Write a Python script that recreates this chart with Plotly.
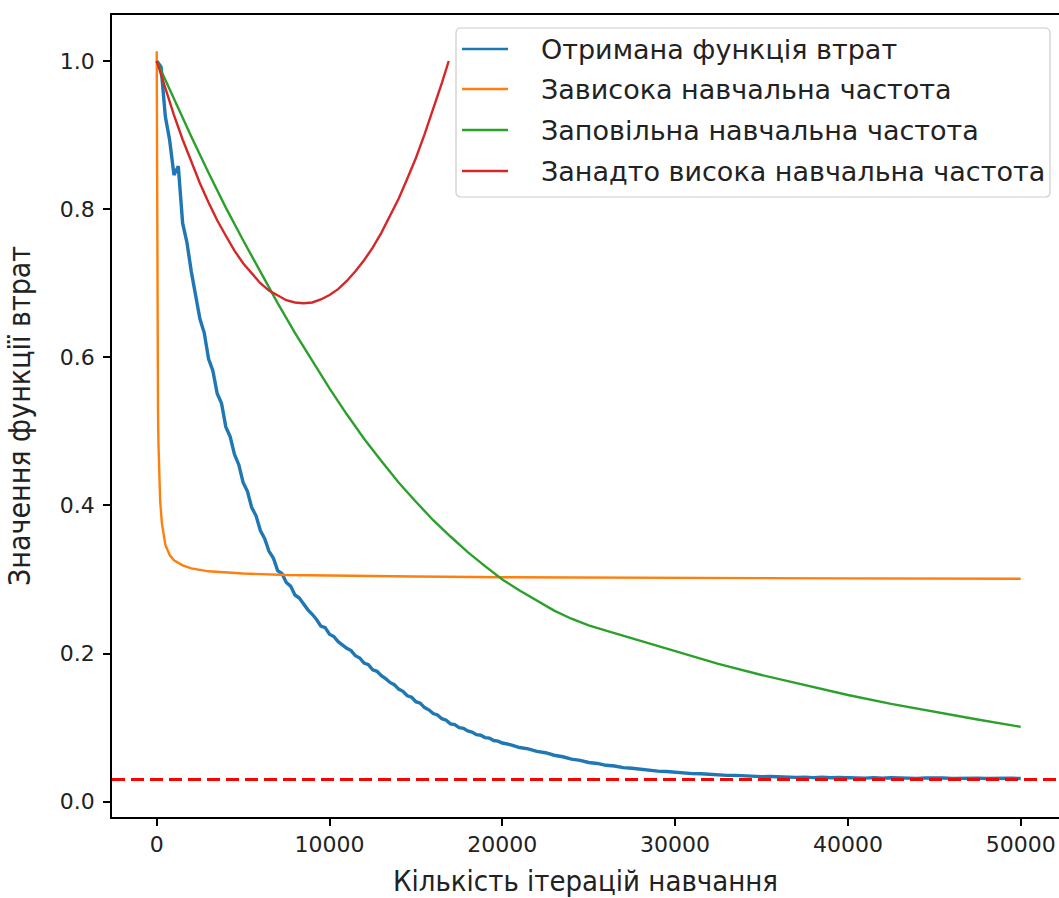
import plotly.graph_objects as go

# --- Loss curves -----------------------------------------------------------
# Observed loss (noisy): iterations and values
obs_iter = (
    [i * 250 for i in range(0, 81)]            # 0 .. 20000, step 250
    + [20000 + i * 500 for i in range(1, 61)]  # 20500 .. 50000, step 500
)
obs_loss = [
    1.000, 0.992, 0.925, 0.893, 0.846, 0.858, 0.781, 0.755, 0.716, 0.685,
    0.652, 0.633, 0.598, 0.582, 0.551, 0.538, 0.506, 0.493, 0.469, 0.455,
    0.431, 0.419, 0.397, 0.386, 0.366, 0.355, 0.338, 0.329, 0.312, 0.308,
    0.296, 0.291, 0.279, 0.275, 0.266, 0.259, 0.253, 0.246, 0.237, 0.235,
    0.226, 0.223, 0.216, 0.211, 0.207, 0.204, 0.197, 0.194, 0.187, 0.185,
    0.178, 0.176, 0.170, 0.166, 0.161, 0.158, 0.152, 0.149, 0.143, 0.141,
    0.135, 0.133, 0.127, 0.124, 0.119, 0.117, 0.112, 0.110, 0.105, 0.104,
    0.1000, 0.0990, 0.0955, 0.0940, 0.0905, 0.0897, 0.0865, 0.0858, 0.0826, 0.0818,
    0.0792,
    0.0768, 0.0731, 0.0712, 0.0679, 0.0661, 0.0627, 0.0606, 0.0575, 0.0558, 0.0529,
    0.0516, 0.0491, 0.0481, 0.0460, 0.0451, 0.0435, 0.0428, 0.0412, 0.0407, 0.0394,
    0.0390, 0.0379, 0.0376, 0.0366, 0.0364, 0.0355, 0.0355, 0.0346, 0.0347, 0.0338,
    0.0340, 0.0333, 0.0336, 0.0328, 0.0332, 0.0325, 0.0330, 0.0322, 0.0327, 0.0321,
    0.0326, 0.0318, 0.0324, 0.0317, 0.0322, 0.0316, 0.0321, 0.0315, 0.0320, 0.0314,
    0.0319, 0.0314, 0.0318, 0.0313, 0.0318, 0.0313, 0.0317, 0.0312, 0.0316, 0.0313,
]

# Learning rate too high: fast drop, then plateau
high_iter = [0, 10, 25, 50, 75, 100, 150, 200, 300, 400, 500, 750, 1000, 1500,
             2000, 3000, 5000, 7500, 10000, 15000, 20000, 30000, 40000, 50000]
high_loss = [1.013, 0.855, 0.716, 0.593, 0.527, 0.485, 0.435, 0.406, 0.376, 0.358,
             0.347, 0.333, 0.326, 0.319, 0.315, 0.311, 0.308, 0.306, 0.305, 0.304,
             0.303, 0.302, 0.3015, 0.301]

# Learning rate too low: slow decay
slow_iter = ([i * 1000 for i in range(0, 25)] + [24500]
             + [i * 1000 for i in range(25, 31)]
             + [32500, 35000, 37500, 40000, 42500, 45000, 47500, 50000])
slow_loss = [1.000, 0.948, 0.898, 0.849, 0.802, 0.758, 0.715, 0.673, 0.633, 0.595,
             0.558, 0.523, 0.490, 0.460, 0.431, 0.405, 0.380, 0.358, 0.337, 0.318,
             0.300, 0.285, 0.271, 0.258, 0.247, 0.242,
             0.238, 0.231, 0.224, 0.217, 0.210, 0.203,
             0.186, 0.171, 0.157, 0.144, 0.132, 0.121, 0.111, 0.101]

# Learning rate far too high: divergence after a minimum
div_iter = [i * 500 for i in range(0, 34)] + [16900]
div_loss = [1.000, 0.962, 0.927, 0.894, 0.864, 0.835, 0.809, 0.785, 0.764, 0.744,
            0.727, 0.713, 0.700, 0.690, 0.683, 0.677, 0.674, 0.673, 0.674, 0.678,
            0.684, 0.692, 0.703, 0.716, 0.731, 0.748, 0.768, 0.790, 0.814, 0.841,
            0.869, 0.901, 0.934, 0.970, 1.000]

target_loss = 0.03

names = [
    "Отримана функція втрат",
    "Зависока навчальна частота",
    "Заповільна навчальна частота",
    "Занадто висока навчальна частота",
]
colors = ["#1f77b4", "#ff7f0e", "#2ca02c", "#d62728"]

x_ticks = [0, 10000, 20000, 30000, 40000, 50000]
y_ticks = [0.0, 0.2, 0.4, 0.6, 0.8, 1.0]

FONT = "DejaVu Sans"
COND = "DejaVu Sans Condensed, Liberation Sans Narrow, DejaVu Sans"
TEXT = "#222222"

# Figure geometry (pixels)
W, H = 1059, 898
ML, MR, MT, MB = 112, 0, 15, 81
PW, PH = W - ML - MR, H - MT - MB


def px(xp):
    return (xp - ML) / PW


def py(yp):
    return (H - MB - yp) / PH


fig = go.Figure()
series = [(obs_iter, obs_loss, 3.4), (high_iter, high_loss, 2.4),
          (slow_iter, slow_loss, 2.4), (div_iter, div_loss, 2.4)]
for (xs, ys, w), name, color in zip(series, names, colors):
    fig.add_trace(go.Scatter(
        x=xs, y=ys, mode="lines", name=name, showlegend=False,
        line=dict(color=color, width=w),
    ))

# Target loss level
fig.add_shape(type="line", xref="paper", x0=0, x1=1, yref="y",
              y0=target_loss, y1=target_loss,
              line=dict(color="#ff0000", width=3, dash="13px,6px"))

# Legend panel: rounded frame, line samples and labels
bx0, bx1, by0, by1, r = 456, 1050, 28, 197, 5
frame = (
    f"M {px(bx0 + r)},{py(by0)} L {px(bx1 - r)},{py(by0)} "
    f"Q {px(bx1)},{py(by0)} {px(bx1)},{py(by0 + r)} "
    f"L {px(bx1)},{py(by1 - r)} Q {px(bx1)},{py(by1)} {px(bx1 - r)},{py(by1)} "
    f"L {px(bx0 + r)},{py(by1)} Q {px(bx0)},{py(by1)} {px(bx0)},{py(by1 - r)} "
    f"L {px(bx0)},{py(by0 + r)} Q {px(bx0)},{py(by0)} {px(bx0 + r)},{py(by0)} Z"
)
fig.add_shape(type="path", xref="paper", yref="paper", path=frame,
              fillcolor="rgba(255,255,255,0.85)",
              line=dict(color="#cccccc", width=1.2))
row_y = [49, 89, 130, 171]
for yy, name, color in zip(row_y, names, colors):
    fig.add_shape(type="line", xref="paper", yref="paper",
                  x0=px(462), x1=px(508), y0=py(yy), y1=py(yy),
                  line=dict(color=color, width=2.6))
    fig.add_annotation(xref="paper", yref="paper", x=px(539), y=py(yy),
                       text=name, showarrow=False, xanchor="left",
                       yanchor="middle",
                       font=dict(family=FONT, size=27, color=TEXT))

axis_common = dict(
    showgrid=False, zeroline=False, showline=True, linecolor="black",
    linewidth=1.6, ticks="outside", ticklen=7, tickwidth=1.5,
    tickcolor="black", tickfont=dict(family=FONT, size=22, color=TEXT),
    automargin=False,
)

fig.update_layout(
    width=W, height=H,
    margin=dict(l=ML, r=MR, t=MT, b=MB),
    paper_bgcolor="white", plot_bgcolor="white",
    xaxis=dict(range=[-2587, 52216], tickvals=x_ticks, tickformat="d",
               mirror=True,
               title=dict(text="Кількість ітерацій навчання",
                          font=dict(family=COND, size=29, color=TEXT),
                          standoff=14),
               **axis_common),
    yaxis=dict(range=[-0.0207, 1.0621], tickvals=y_ticks, tickformat=".1f",
               ticklabelstandoff=4,
               title=dict(text="Значення функції втрат",
                          font=dict(family=COND, size=30, color=TEXT),
                          standoff=20),
               **axis_common),
    showlegend=False,
)

fig.write_html("out.html")
